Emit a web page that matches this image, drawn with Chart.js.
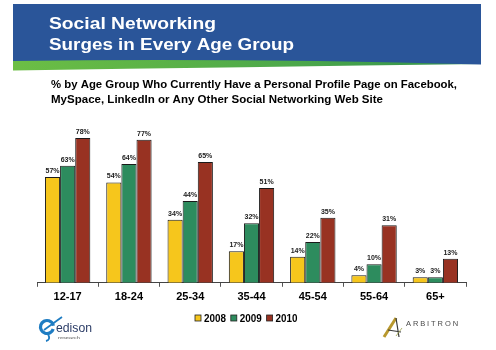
<!DOCTYPE html>
<html>
<head>
<meta charset="utf-8">
<script src="https://cdn.jsdelivr.net/npm/chart.js@4/dist/chart.umd.min.js"></script>
<style>
  html, body { margin: 0; padding: 0; background: #fff; }
  #wrap { position: relative; width: 496px; height: 350px; }
</style>
</head>
<body>
<div id="wrap"><canvas id="c" width="496" height="350"></canvas></div>
<script>
const categories = ['12-17', '18-24', '25-34', '35-44', '45-54', '55-64', '65+'];
const seriesNames = ['2008', '2009', '2010'];
const values2008 = [57, 54, 34, 17, 14, 4, 3];
const values2009 = [63, 64, 44, 32, 22, 10, 3];
const values2010 = [78, 77, 65, 51, 35, 31, 13];
const titleLines = ['Social Networking', 'Surges in Every Age Group'];
const subtitleLines = [
  '% by Age Group Who Currently Have a Personal Profile Page on Facebook,',
  'MySpace, LinkedIn or Any Other Social Networking Web Site'
];

const FONT = '"Liberation Sans", Arial, sans-serif';
const colors = ['#F6C61C', '#2D8C5E', '#983222'];

function fitText(ctx, text, x, y, size, width, color, weight) {
  ctx.font = (weight || 'bold') + ' ' + size + 'px ' + FONT;
  const w = ctx.measureText(text).width;
  ctx.save();
  ctx.fillStyle = color;
  ctx.textAlign = 'left';
  ctx.textBaseline = 'alphabetic';
  ctx.translate(x, y);
  ctx.scale(width / w, 1);
  ctx.fillText(text, 0, 0);
  ctx.restore();
}

const decor = {
  id: 'decor',
  beforeDraw(chart) {
    const ctx = chart.ctx;
    ctx.save();
    ctx.fillStyle = '#fff';
    ctx.fillRect(0, 0, chart.width, chart.height);
    // green swoosh
    const g = ctx.createLinearGradient(13, 0, 481, 0);
    g.addColorStop(0, '#6CBE45');
    g.addColorStop(0.6, '#4CA84A');
    g.addColorStop(1, '#2F8E4E');
    ctx.fillStyle = g;
    ctx.beginPath();
    ctx.moveTo(13, 55);
    ctx.lineTo(481, 55);
    ctx.lineTo(481, 64);
    ctx.quadraticCurveTo(240, 67, 13, 70.5);
    ctx.closePath();
    ctx.fill();
    // blue banner
    ctx.fillStyle = '#2A5599';
    ctx.beginPath();
    ctx.moveTo(13, 4);
    ctx.lineTo(481, 4);
    ctx.lineTo(481, 64.5);
    ctx.quadraticCurveTo(240, 58, 13, 61);
    ctx.closePath();
    ctx.fill();
    ctx.restore();

    fitText(ctx, titleLines[0], 49, 28.5, 16.5, 167, '#fff');
    fitText(ctx, titleLines[1], 49, 50, 16.5, 245, '#fff');
    fitText(ctx, subtitleLines[0], 51, 88, 11, 406, '#000');
    fitText(ctx, subtitleLines[1], 51, 102.5, 11, 332, '#000');
  },
  afterDatasetsDraw(chart) {
    const ctx = chart.ctx;
    ctx.save();
    ctx.font = 'bold 7px ' + FONT;
    ctx.fillStyle = '#222';
    ctx.textAlign = 'center';
    ctx.textBaseline = 'alphabetic';
    chart.data.datasets.forEach((ds, i) => {
      const meta = chart.getDatasetMeta(i);
      meta.data.forEach((el, j) => {
        ctx.fillText(ds.data[j] + '%', el.x, el.y - 4);
      });
    });
    ctx.restore();
  },
  afterDraw(chart) {
    const ctx = chart.ctx;
    ctx.save();
    // legend
    let x = 195;
    const y = 315;
    ctx.font = 'bold 10.5px ' + FONT;
    ctx.textBaseline = 'alphabetic';
    chart.data.datasets.forEach((ds) => {
      ctx.fillStyle = ds.backgroundColor;
      ctx.fillRect(x, y, 6, 6);
      ctx.strokeStyle = '#222';
      ctx.lineWidth = 0.8;
      ctx.strokeRect(x, y, 6, 6);
      ctx.fillStyle = '#000';
      fitText(ctx, ds.label, x + 9, y + 7, 10.5, 22, '#000');
      x += 35.8;
    });

    // edison logo
    ctx.strokeStyle = '#1E7CC2';
    ctx.lineWidth = 3.2;
    ctx.beginPath();
    ctx.arc(47, 327, 6.5, 0.3, Math.PI * 2 - 0.2);
    ctx.stroke();
    ctx.lineWidth = 1.8;
    ctx.beginPath();
    ctx.moveTo(44, 330);
    ctx.quadraticCurveTo(55, 322, 62, 317);
    ctx.stroke();
    ctx.beginPath();
    ctx.moveTo(48, 334);
    ctx.quadraticCurveTo(51, 340, 46, 341);
    ctx.stroke();
    fitText(ctx, 'edison', 56, 332, 12.5, 36, '#2B3C66', 'normal');
    fitText(ctx, 'research', 58, 338.5, 4, 22, '#555', 'normal');

    // arbitron logo
    ctx.strokeStyle = '#B8982E';
    ctx.lineWidth = 3;
    ctx.beginPath();
    ctx.moveTo(384, 337);
    ctx.lineTo(396, 318);
    ctx.stroke();
    ctx.strokeStyle = '#3A3A3A';
    ctx.lineWidth = 1.2;
    ctx.beginPath();
    ctx.moveTo(396, 318);
    ctx.lineTo(399, 337);
    ctx.moveTo(388, 330);
    ctx.lineTo(401, 332);
    ctx.stroke();
    ctx.strokeStyle = '#9AA04A';
    ctx.lineWidth = 0.8;
    ctx.beginPath();
    ctx.moveTo(396, 336);
    ctx.lineTo(402, 328);
    ctx.stroke();
    ctx.font = '7.5px ' + FONT;
    ctx.fillStyle = '#4A4A4A';
    const word = 'ARBITRON';
    let ax = 406;
    for (const ch of word) {
      ctx.fillText(ch, ax, 326);
      ax += ctx.measureText(ch).width + 1.9;
    }
    ctx.restore();
  }
};

new Chart(document.getElementById('c'), {
  type: 'bar',
  data: {
    labels: categories,
    datasets: [
      { label: seriesNames[0], data: values2008, backgroundColor: colors[0] },
      { label: seriesNames[1], data: values2009, backgroundColor: colors[1] },
      { label: seriesNames[2], data: values2010, backgroundColor: colors[2] }
    ].map(d => Object.assign(d, {
      borderColor: '#1a1a1a',
      borderWidth: 1,
      categoryPercentage: 0.74,
      barPercentage: 1.0
    }))
  },
  options: {
    responsive: false,
    animation: false,
    devicePixelRatio: 1,
    layout: { padding: { top: 97, left: 37, right: 30, bottom: 42 } },
    plugins: {
      legend: { display: false },
      tooltip: { enabled: false },
      title: { display: false }
    },
    scales: {
      x: {
        grid: {
          display: true,
          drawOnChartArea: false,
          drawTicks: true,
          tickLength: 4,
          color: '#555',
          offset: true
        },
        border: { display: true, color: '#444', width: 1 },
        ticks: {
          color: '#000',
          padding: 4,
          font: { family: FONT, size: 11, weight: 'bold' }
        }
      },
      y: {
        display: false,
        min: 0,
        max: 100
      }
    }
  },
  plugins: [decor]
});
</script>
</body>
</html>
